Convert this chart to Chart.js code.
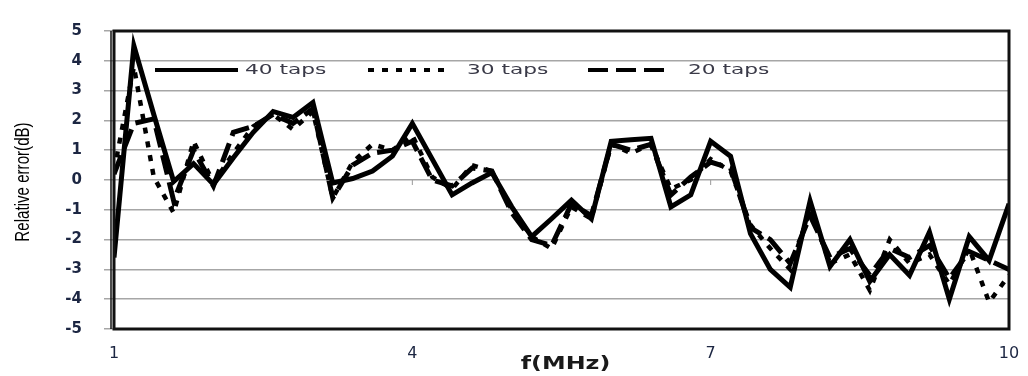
<!DOCTYPE html>
<html>
<head>
<meta charset="utf-8">
<script src="https://cdn.jsdelivr.net/npm/chart.js@4/dist/chart.umd.min.js"></script>
<style>
  html, body { margin: 0; padding: 0; background: #fff; }
  #wrap { width: 1028px; height: 376px; }
</style>
</head>
<body>
<div id="wrap"><canvas id="errChart" width="1028" height="376"></canvas></div>
<script>
// frequency points (MHz)
const freq = [1.0, 1.2, 1.4, 1.6, 1.8, 2.0, 2.2, 2.4, 2.6, 2.8,
              3.0, 3.2, 3.4, 3.6, 3.8, 4.0, 4.2, 4.4, 4.6, 4.8,
              5.0, 5.2, 5.4, 5.6, 5.8, 6.0, 6.2, 6.4, 6.6, 6.8,
              7.0, 7.2, 7.4, 7.6, 7.8, 8.0, 8.2, 8.4, 8.6, 8.8,
              9.0, 9.2, 9.4, 9.6, 9.8, 10.0];

// relative error (dB)
const taps40 = [-2.6, 4.5, 2.2, -0.05, 0.55, -0.15, 0.75, 1.6, 2.3, 2.1,
                2.6, -0.1, 0.05, 0.3, 0.8, 1.9, 0.7, -0.5, -0.1, 0.25,
                -0.9, -1.9, -1.3, -0.68, -1.3, 1.3, 1.35, 1.4, -0.9, -0.5,
                1.3, 0.8, -1.8, -3.0, -3.6, -0.7, -2.9, -2.0, -3.4, -2.5,
                -3.2, -1.75, -4.0, -1.9, -2.7, -0.8];
const taps30 = [0.3, 3.8, 0.1, -1.1, 1.3, -0.1, 0.9, 1.8, 2.2, 1.7,
                2.3, -0.6, 0.6, 1.2, 1.0, 1.5, 0.1, -0.3, 0.5, 0.3,
                -1.0, -1.9, -2.3, -0.9, -1.3, 1.2, 0.9, 1.2, -0.3, 0.0,
                0.7, 0.3, -1.5, -2.3, -3.0, -1.0, -2.8, -2.5, -3.7, -2.0,
                -2.8, -2.5, -3.5, -2.3, -4.1, -3.2];
const taps20 = [0.2, 1.9, 2.05, -0.7, 1.0, -0.2, 1.6, 1.8, 2.2, 1.9,
                2.4, -0.6, 0.5, 0.9, 1.0, 1.3, 0.0, -0.2, 0.4, 0.3,
                -1.1, -2.0, -2.2, -0.8, -1.2, 1.2, 1.0, 1.2, -0.5, 0.1,
                0.6, 0.4, -1.6, -2.0, -2.8, -1.2, -2.6, -2.3, -3.2, -2.3,
                -2.6, -2.2, -3.3, -2.4, -2.7, -3.0];

const xTicks = [1, 4, 7, 10];
const seriesNames = ["40 taps", "30 taps", "20 taps"];
const xTitle = "f(MHz)";
const yTitle = "Relative error(dB)";

const toPts = ys => ys.map((y, i) => ({ x: freq[i], y: y }));

// stretched text helper (the original image is squashed/stretched)
function drawText(ctx, str, x, y, font, color, sx, align, angle) {
  ctx.save();
  ctx.translate(x, y);
  if (angle) ctx.rotate(angle);
  ctx.scale(sx, 1);
  ctx.font = font;
  ctx.fillStyle = color;
  ctx.textAlign = align || "left";
  ctx.textBaseline = "middle";
  ctx.fillText(str, 0, 0);
  ctx.restore();
}

// legend drawn inside the plot, one row across the top
const insideLegend = {
  id: "insideLegend",
  afterDraw(chart) {
    const ctx = chart.ctx;
    const area = chart.chartArea;
    const y = area.top + 39;
    const starts = [area.left + 41, area.left + 254, area.left + 474];
    const textGap = [90, 99, 100];
    ctx.save();
    chart.data.datasets.forEach((ds, i) => {
      const x0 = starts[i];
      ctx.beginPath();
      ctx.setLineDash(ds.borderDash || []);
      ctx.lineWidth = 4;
      ctx.lineCap = "butt";
      ctx.strokeStyle = ds.borderColor;
      ctx.moveTo(x0, y);
      ctx.lineTo(x0 + 83, y);
      ctx.stroke();
      ctx.setLineDash([]);
      drawText(ctx, ds.label, x0 + textGap[i], y, "14px 'DejaVu Sans'", "#3a3a48", 1.55);
    });
    ctx.restore();
  }
};

// axis titles
const axisTitles = {
  id: "axisTitles",
  afterDraw(chart) {
    const ctx = chart.ctx;
    const a = chart.chartArea;
    drawText(ctx, xTitle, (a.left + a.right) / 2 + 4, 365, "bold 17px 'DejaVu Sans'", "#1a1a1a", 1.4, "center");
    drawText(ctx, yTitle, 23, (a.top + a.bottom) / 2 + 2, "21px 'Liberation Sans'", "#000", 0.72, "center", -Math.PI / 2);
  }
};

// thick plot frame plus small marks where the x ticks cross 0
const frame = {
  id: "frame",
  afterDatasetsDraw(chart) {
    const ctx = chart.ctx;
    const a = chart.chartArea;
    const xs = chart.scales.x;
    const ys = chart.scales.y;
    ctx.save();
    ctx.strokeStyle = "#999";
    ctx.lineWidth = 1;
    const y0 = ys.getPixelForValue(0);
    xTicks.slice(1).forEach(t => {
      const px = xs.getPixelForValue(t);
      ctx.beginPath();
      ctx.moveTo(px, y0);
      ctx.lineTo(px, y0 + 5);
      ctx.stroke();
    });
    ctx.strokeStyle = "#111";
    ctx.lineWidth = 3;
    ctx.strokeRect(a.left, a.top, a.right - a.left, a.bottom - a.top);
    ctx.lineWidth = 1.5;
    ctx.beginPath();
    ctx.moveTo(a.left - 3, a.top);
    ctx.lineTo(a.left - 3, a.bottom);
    ctx.stroke();
    ctx.restore();
  }
};

new Chart(document.getElementById("errChart"), {
  type: "line",
  data: {
    datasets: [
      {
        label: seriesNames[0],
        data: toPts(taps40),
        borderColor: "#000",
        borderWidth: 5,
        borderJoinStyle: "miter",
      },
      {
        label: seriesNames[1],
        data: toPts(taps30),
        borderColor: "#000",
        borderWidth: 4.5,
        borderDash: [6, 8],
      },
      {
        label: seriesNames[2],
        data: toPts(taps20),
        borderColor: "#000",
        borderWidth: 5,
        borderDash: [20, 8],
      },
    ],
  },
  options: {
    responsive: false,
    animation: false,
    layout: { padding: { left: 0, right: 19, top: 19, bottom: 0 } },
    elements: {
      point: { radius: 0 },
      line: { tension: 0, fill: false },
    },
    plugins: {
      legend: { display: false },
      tooltip: { enabled: false },
    },
    scales: {
      x: {
        type: "linear",
        min: 1,
        max: 10,
        afterBuildTicks: scale => {
          scale.ticks = xTicks.map(v => ({ value: v }));
        },
        afterFit: scale => { scale.height = 47; },
        grid: { display: false },
        border: { display: false },
        ticks: {
          color: "#1c2642",
          font: { family: "DejaVu Sans", size: 16 },
          padding: 7,
          maxRotation: 0,
        },
      },
      y: {
        min: -5,
        max: 5,
        afterFit: scale => { scale.width = 114; },
        ticks: {
          stepSize: 1,
          color: "#1c2642",
          font: { family: "DejaVu Sans", size: 15, weight: "bold" },
          padding: 22,
        },
        grid: {
          color: "#a6a6a6",
          lineWidth: 1.5,
          tickLength: 10,
          tickColor: "#a6a6a6",
        },
        border: { display: false },
      },
    },
  },
  plugins: [frame, insideLegend, axisTitles],
});
</script>
</body>
</html>
